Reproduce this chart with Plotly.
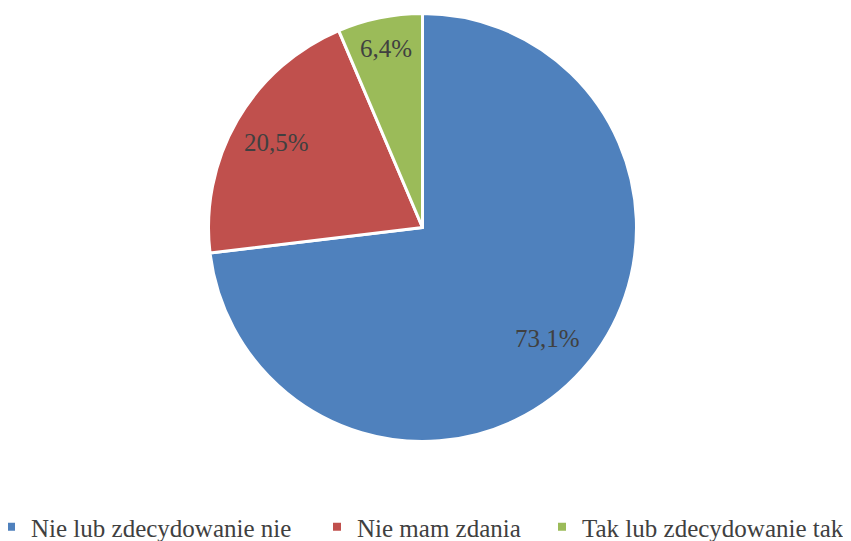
import math
import plotly.graph_objects as go

labels = ["Nie lub zdecydowanie nie", "Nie mam zdania", "Tak lub zdecydowanie tak"]
values = [73.1, 20.5, 6.4]
colors = ["#4F81BD", "#C0504D", "#9BBB59"]
text_labels = ["73,1%", "20,5%", "6,4%"]

W, H = 851, 541
# page body has an 8px margin, so shift the figure coordinates back by 8
OFF = 8
cx, cy, r = 422.5 - OFF, 227.5 - OFF, 214
label_r = [0.78, 0.79, 0.855]  # radial placement of the data labels (fraction of radius)
legend_text_x = [31, 357, 582]  # where each legend entry's text starts
FONT = "Liberation Serif"
TEXT = "#404040"

fig = go.Figure(
    go.Pie(
        labels=labels,
        values=values,
        textinfo="none",
        marker=dict(colors=colors, line=dict(color="white", width=3)),
        sort=False,
        direction="clockwise",
        rotation=0,
        hoverinfo="label+percent",
        showlegend=False,
        domain=dict(x=[(cx - r) / W, (cx + r) / W], y=[1 - (cy + r) / H, 1 - (cy - r) / H]),
    )
)

# data labels placed at each slice's mid-angle
total = sum(values)
start = 0.0
for v, t, k in zip(values, text_labels, label_r):
    mid = (start + v / 2) / total * 2 * math.pi
    start += v
    x = cx + k * r * math.sin(mid)
    y = cy - k * r * math.cos(mid)
    fig.add_annotation(
        x=x / W, y=1 - y / H, xref="paper", yref="paper",
        xanchor="center", yanchor="middle",
        text=t, showarrow=False,
        font=dict(family=FONT, size=25, color=TEXT),
    )

# legend: one entry per legend so the spacing follows the original
legend_layout = {}
for i, (lab, col, tx) in enumerate(zip(labels, colors, legend_text_x)):
    name = "legend" if i == 0 else f"legend{i + 1}"
    fig.add_trace(
        go.Scatter(
            x=[None], y=[None], mode="markers", name=lab,
            marker=dict(symbol="square", size=8, color=col),
            legend=name, showlegend=True, hoverinfo="skip",
        )
    )
    legend_layout[name] = dict(
        orientation="h",
        x=(tx - OFF - 40) / W,
        xanchor="left",
        y=1 - (527 - OFF) / H,
        yanchor="middle",
        bgcolor="rgba(0,0,0,0)",
        font=dict(family=FONT, size=25, color=TEXT),
    )

fig.update_layout(
    width=W,
    height=H,
    margin=dict(l=0, r=0, t=0, b=0, autoexpand=False),
    paper_bgcolor="white",
    plot_bgcolor="white",
    font=dict(family=FONT, size=25, color=TEXT),
    xaxis=dict(visible=False),
    yaxis=dict(visible=False),
    **legend_layout,
)

fig.write_html("out.html")
